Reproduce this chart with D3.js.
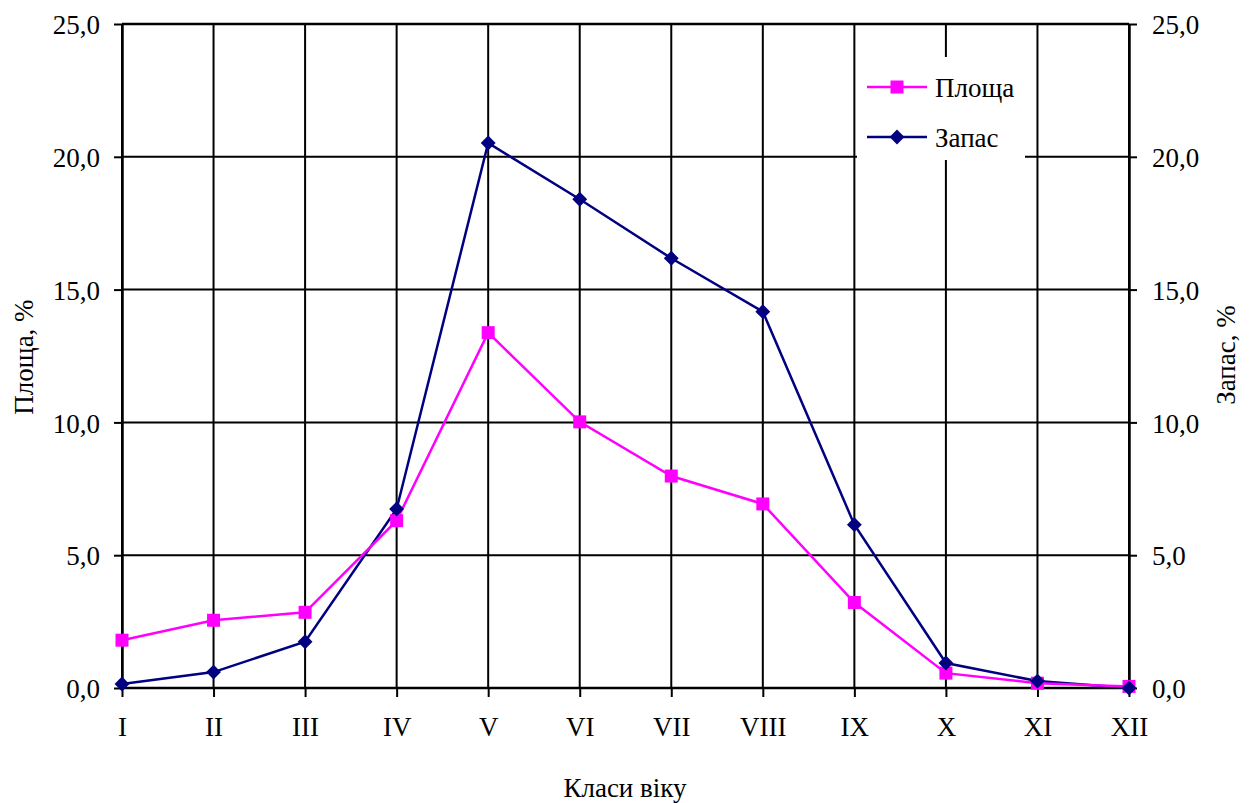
<!DOCTYPE html>
<html><head><meta charset="utf-8">
<script src="https://cdn.jsdelivr.net/npm/d3@7/dist/d3.min.js"></script>
<style>
body{margin:0;background:#fff;}
svg{display:block;font-family:"Liberation Serif","Times New Roman",serif;}
</style></head>
<body><svg id="c" width="1251" height="803"></svg>
<script>
const categories = ["I","II","III","IV","V","VI","VII","VIII","IX","X","XI","XII"];
const ploshcha = [1.8, 2.55, 2.85, 6.3, 13.38, 10.02, 7.98, 6.93, 3.22, 0.56, 0.18, 0.06];
const zapas = [0.15, 0.6, 1.74, 6.74, 20.52, 18.4, 16.18, 14.17, 6.15, 0.94, 0.26, 0.0];
const yTicks = [0, 5, 10, 15, 20, 25];
const seriesNames = ["Площа", "Запас"];
const leftTitle = "Площа, %";
const rightTitle = "Запас, %";
const xTitle = "Класи віку";

const svg = d3.select("#c");
const L = 122, R = 1129, T = 24, B = 688;
const fs = 27;
const x = d3.scalePoint().domain(categories).range([L, R]);
const y = d3.scaleLinear().domain([0, 25]).range([B, T]);
const fmt = d => d3.format(".1f")(d).replace(".", ",");

// grid
const g = svg.append("g");
g.selectAll("line.h").data(yTicks).join("line")
  .attr("x1", L).attr("x2", R).attr("y1", d => y(d)).attr("y2", d => y(d))
  .attr("stroke", "#000").attr("stroke-width", 2);
g.selectAll("line.v").data(categories).join("line")
  .attr("x1", d => x(d)).attr("x2", d => x(d)).attr("y1", T).attr("y2", B)
  .attr("stroke", "#000").attr("stroke-width", 2);

// axes
function styleAxis(sel) {
  sel.select(".domain").attr("stroke", "#000").attr("stroke-width", 2.5);
  sel.selectAll(".tick line").attr("stroke", "#000").attr("stroke-width", 2);
  sel.selectAll(".tick text").attr("fill", "#000").style("font-size", fs + "px")
    .style("font-family", '"Liberation Serif","Times New Roman",serif');
}
const ax = svg.append("g").attr("transform", `translate(${L},0)`)
  .call(d3.axisLeft(y).tickValues(yTicks).tickFormat(fmt).tickSize(8).tickPadding(14).tickSizeOuter(0));
styleAxis(ax);
const axR = svg.append("g").attr("transform", `translate(${R},0)`)
  .call(d3.axisRight(y).tickValues(yTicks).tickFormat(fmt).tickSize(8).tickPadding(15).tickSizeOuter(0));
styleAxis(axR);
const axB = svg.append("g").attr("transform", `translate(0,${B})`)
  .call(d3.axisBottom(x).tickSize(9).tickPadding(20).tickSizeOuter(0));
styleAxis(axB);
axB.select(".domain").attr("d", `M${L},0H${R}`);
ax.selectAll(".tick text").attr("dy", "0.36em");
axR.selectAll(".tick text").attr("dy", "0.36em");
// top border
svg.append("line").attr("x1", L).attr("x2", R).attr("y1", T).attr("y2", T)
  .attr("stroke", "#000").attr("stroke-width", 2.5);

// lines
const line = d3.line().x((d, i) => x(categories[i])).y(d => y(d));
svg.append("path").datum(zapas).attr("d", line).attr("fill", "none")
  .attr("stroke", "#000080").attr("stroke-width", 2.5);
svg.append("path").datum(ploshcha).attr("d", line).attr("fill", "none")
  .attr("stroke", "#FF00FF").attr("stroke-width", 2.5);

const sq = d3.symbol().type(d3.symbolSquare).size(13 * 13);
const dm = d3.symbol().type(d3.symbolSquare).size(10.5 * 10.5);
svg.append("g").selectAll("path").data(ploshcha).join("path")
  .attr("d", sq).attr("fill", "#FF00FF")
  .attr("transform", (d, i) => `translate(${x(categories[i])},${y(d)})`);
svg.append("g").selectAll("path").data(zapas).join("path")
  .attr("d", dm).attr("fill", "#000080")
  .attr("transform", (d, i) => `translate(${x(categories[i])},${y(d)}) rotate(45)`);

// legend
const lg = svg.append("g");
lg.append("rect").attr("x", 857).attr("y", 57).attr("width", 168).attr("height", 103).attr("fill", "#fff");
const rows = [{n: seriesNames[0], c: "#FF00FF", s: sq, r: 0, yy: 87},
              {n: seriesNames[1], c: "#000080", s: dm, r: 45, yy: 137}];
rows.forEach(o => {
  lg.append("line").attr("x1", 867).attr("x2", 927).attr("y1", o.yy).attr("y2", o.yy)
    .attr("stroke", o.c).attr("stroke-width", 2.5);
  lg.append("path").attr("d", o.s).attr("fill", o.c)
    .attr("transform", `translate(897,${o.yy}) rotate(${o.r})`);
  lg.append("text").attr("x", 935).attr("y", o.yy).attr("dy", "0.36em")
    .style("font-size", fs + "px").text(o.n);
});

// titles
svg.append("text").attr("transform", "translate(33,357) rotate(-90)")
  .attr("text-anchor", "middle").style("font-size", fs + "px").text(leftTitle);
svg.append("text").attr("transform", "translate(1235,355) rotate(-90)")
  .attr("text-anchor", "middle").style("font-size", fs + "px").text(rightTitle);
svg.append("text").attr("x", 625).attr("y", 797)
  .attr("text-anchor", "middle").style("font-size", fs + "px").text(xTitle);
</script></body></html>
